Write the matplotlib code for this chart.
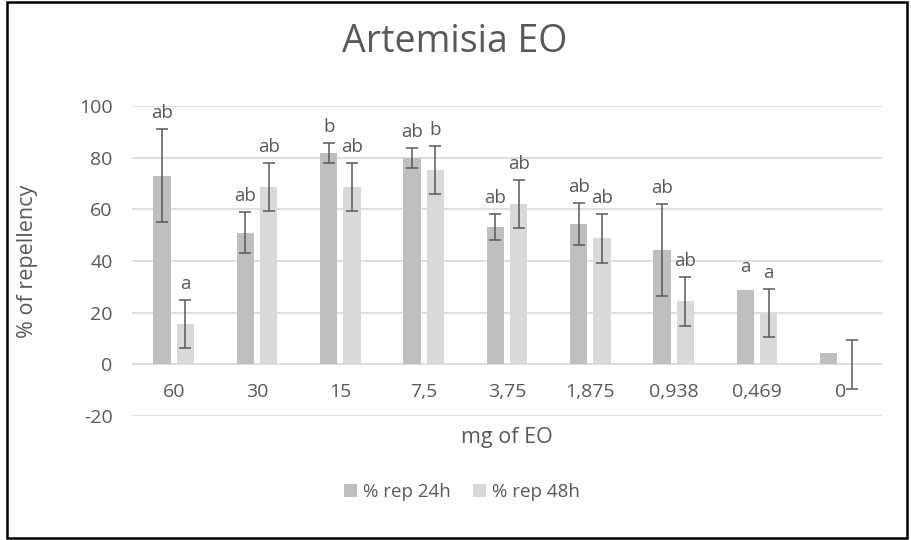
import numpy as np
import matplotlib.pyplot as plt
from matplotlib.patches import Rectangle

plt.rcParams['font.family'] = ['Open Sans', 'DejaVu Sans']
plt.rcParams['axes.unicode_minus'] = False

doses = ['60', '30', '15', '7,5', '3,75', '1,875', '0,938', '0,469', '0']
rep_24h = [73.0, 51.0, 81.9, 79.9, 53.2, 54.3, 44.4, 28.8, 4.3]
err_24h = [18.0, 8.0, 3.8, 3.9, 4.9, 8.0, 17.8, np.nan, np.nan]
rep_48h = [15.5, 68.6, 68.6, 75.3, 62.1, 48.8, 24.4, 19.9, 0.0]
err_48h = [9.3, 9.4, 9.4, 9.4, 9.4, 9.4, 9.4, 9.4, 9.4]
letters_24h = ['ab', 'ab', 'b', 'ab', 'ab', 'ab', 'ab', 'a', '']
letters_48h = ['a', 'ab', 'ab', 'b', 'ab', 'ab', 'ab', 'a', '']

grey_text = '#595959'
c24 = '#bfbfbf'
c48 = '#d9d9d9'
grid_c = '#d9d9d9'

fig = plt.figure(figsize=(9.11, 5.40), dpi=100)
ax = fig.add_axes([132 / 911, 1 - 416 / 540, 750 / 911, 310 / 540])

x = np.arange(len(doses))
w = 0.21
off = 0.14

ax.bar(x - off, rep_24h, w, color=c24, zorder=2, label='% rep 24h')
ax.bar(x + off, rep_48h, w, color=c48, zorder=2, label='% rep 48h')

for xs, vals, errs in [(x - off, rep_24h, err_24h), (x + off, rep_48h, err_48h)]:
    vals = np.array(vals)
    errs = np.array(errs)
    m = ~np.isnan(errs)
    ax.errorbar(xs[m], vals[m], yerr=errs[m], fmt='none', ecolor='#595959',
                elinewidth=1.1, capsize=4, capthick=1.1, zorder=3)

for xs, vals, errs, lets in [(x - off, rep_24h, err_24h, letters_24h),
                             (x + off, rep_48h, err_48h, letters_48h)]:
    for xi, v, e, t in zip(xs, vals, errs, lets):
        if not t:
            continue
        top = v + (0 if np.isnan(e) else e)
        extra = 10 if np.isnan(e) else 5
        ax.annotate(t, (xi, top), xytext=(0, extra), textcoords='offset points',
                    ha='center', va='bottom', fontsize=13.5, color=grey_text)

ax.set_xlim(-0.5, len(doses) - 0.5)
ax.set_ylim(-20, 100)
ax.set_yticks(np.arange(-20, 101, 20))
ax.yaxis.grid(True, color=grid_c, linewidth=1.2, zorder=0)
ax.set_axisbelow(True)
ax.set_xticks([])
ax.tick_params(axis='y', length=0, pad=14, labelsize=14, labelcolor=grey_text)
for s in ax.spines.values():
    s.set_visible(False)

for xi, d in zip(x, doses):
    ax.text(xi, -10.7, d, ha='center', va='center', fontsize=14, color=grey_text)

ax.set_ylabel('% of repellency', fontsize=15.5, color=grey_text)
ax.yaxis.set_label_coords(-94 / 750, 0.5)
fig.text(507 / 911, 1 - 437 / 540, 'mg of EO', ha='center', va='center',
         fontsize=15.5, color=grey_text)
fig.text(455 / 911, 1 - 42 / 540, 'Artemisia EO', ha='center', va='center',
         fontsize=27, color=grey_text)

leg = fig.legend(loc='center', bbox_to_anchor=(462 / 911, 1 - 492 / 540), ncol=2,
                 frameon=False, fontsize=13.5, handlelength=0.7, handleheight=0.7,
                 handletextpad=0.3, columnspacing=1.2, labelcolor=grey_text)

fig.patches.append(Rectangle((0.008, 0.003), 0.988, 0.994, transform=fig.transFigure,
                             fill=False, edgecolor='black', linewidth=1.8))

fig.savefig('out.png', dpi=100)
